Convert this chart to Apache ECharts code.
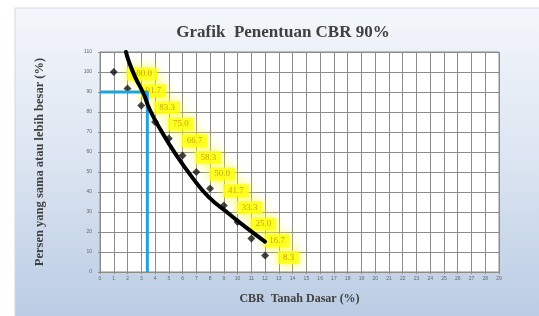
<!DOCTYPE html>
<html>
<head>
<meta charset="utf-8">
<script src="https://cdn.jsdelivr.net/npm/echarts@6/dist/echarts.min.js"></script>
<style>
  html, body { margin: 0; padding: 0; background: #fff; }
  #chart { width: 539px; height: 316px; }
</style>
</head>
<body>
<div id="chart"></div>
<script>
// CBR values (x) and percent of values >= each (y)
const cbrValues = [1, 2, 3, 4, 5, 6, 7, 8, 9, 10, 11, 12]
const percentValues = [100.0, 91.7, 83.3, 75.0, 66.7, 58.3, 50.0, 41.7, 33.3, 25.0, 16.7, 8.3]
const percentLabels = ['100.0', '91.7', '83.3', '75.0', '66.7', '58.3', '50.0', '41.7', '33.3', '25.0', '16.7', '8.3']

// trend curve
const curveX = [1.89, 2.06, 2.54, 3.15, 3.63, 4.48, 5.45, 6.66, 7.87, 9.32, 10.54, 11.99]
const curveY = [110, 106, 97.7, 89.4, 81, 70.2, 59.4, 47.7, 37.7, 29.4, 22.7, 15.2]

// CBR 90% reading
const cbr90 = 3.44
const target = 90

let myChart = echarts.init(document.getElementById('chart'))

const serif = 'Liberation Serif'
let points = cbrValues.map((x, i) => [x, percentValues[i], percentLabels[i]])
let curve = curveX.map((x, i) => [x, curveY[i]])
let guide = [[0, target], [cbr90, target], [cbr90, 0]]

let option = {
    backgroundColor: '#fff',
    animation: false,
    graphic: [{
        type: 'rect',
        z: -10,
        shape: { x: 15, y: 8, width: 530, height: 315 },
        style: {
            fill: new echarts.graphic.LinearGradient(0, 0, 0, 1, [
                { offset: 0, color: '#f4f7fb' },
                { offset: 0.5, color: '#dbe4f1' },
                { offset: 1, color: '#b9cbe3' }
            ]),
            stroke: '#d0d8e4'
        }
    }],
    title: {
        text: 'Grafik  Penentuan CBR 90%',
        left: 278,
        textAlign: 'center',
        top: 19,
        textStyle: { fontFamily: serif, fontSize: 17, fontWeight: 'bold', color: '#404040' }
    },
    grid: {
        left: 100, right: 40, top: 52, bottom: 44,
        show: true,
        backgroundColor: '#fff',
        borderColor: '#8c8c8c',
        borderWidth: 1
    },
    xAxis: {
        type: 'value',
        min: 0, max: 29, interval: 1,
        name: 'CBR  Tanah Dasar (%)',
        nameLocation: 'middle',
        nameGap: 21,
        nameTextStyle: { fontFamily: serif, fontSize: 12, fontWeight: 'bold', color: '#404040' },
        axisLine: { lineStyle: { color: '#8c8c8c' } },
        axisTick: { show: true, length: 2, lineStyle: { color: '#8c8c8c' } },
        axisLabel: { fontSize: 5, color: '#666', margin: 4 },
        splitLine: { lineStyle: { color: '#8c8c8c', width: 1 } }
    },
    yAxis: {
        type: 'value',
        min: 0, max: 110, interval: 10,
        name: 'Persen yang sama atau lebih besar (%)',
        nameLocation: 'middle',
        nameGap: 54,
        nameTextStyle: { fontFamily: serif, fontSize: 12.5, fontWeight: 'bold', color: '#404040' },
        axisLine: { show: true, lineStyle: { color: '#8c8c8c' } },
        axisTick: { show: true, length: 2, lineStyle: { color: '#8c8c8c' } },
        axisLabel: { fontSize: 5, color: '#666', margin: 8 },
        splitLine: { lineStyle: { color: '#8c8c8c', width: 1 } }
    },
    series: [
        {
            type: 'scatter',
            z: 1,
            data: points,
            symbol: 'diamond',
            symbolSize: 8,
            itemStyle: { color: '#111' },
            label: {
                show: true,
                position: 'right',
                distance: 9,
                offset: [0, 2],
                formatter: p => p.data[2],
                fontFamily: serif,
                fontSize: 9,
                color: '#b89000',
                backgroundColor: '#ffff10',
                padding: [2, 5],
                shadowColor: '#ffff00',
                shadowBlur: 10
            }
        },
        {
            type: 'line',
            z: 2,
            data: guide,
            symbol: 'none',
            lineStyle: { color: '#1fa3dc', width: 3 }
        },
        {
            type: 'line',
            z: 3,
            data: curve,
            smooth: true,
            symbol: 'none',
            lineStyle: { color: '#000', width: 4, cap: 'round' }
        }
    ]
}

myChart.setOption(option)
</script>
</body>
</html>
